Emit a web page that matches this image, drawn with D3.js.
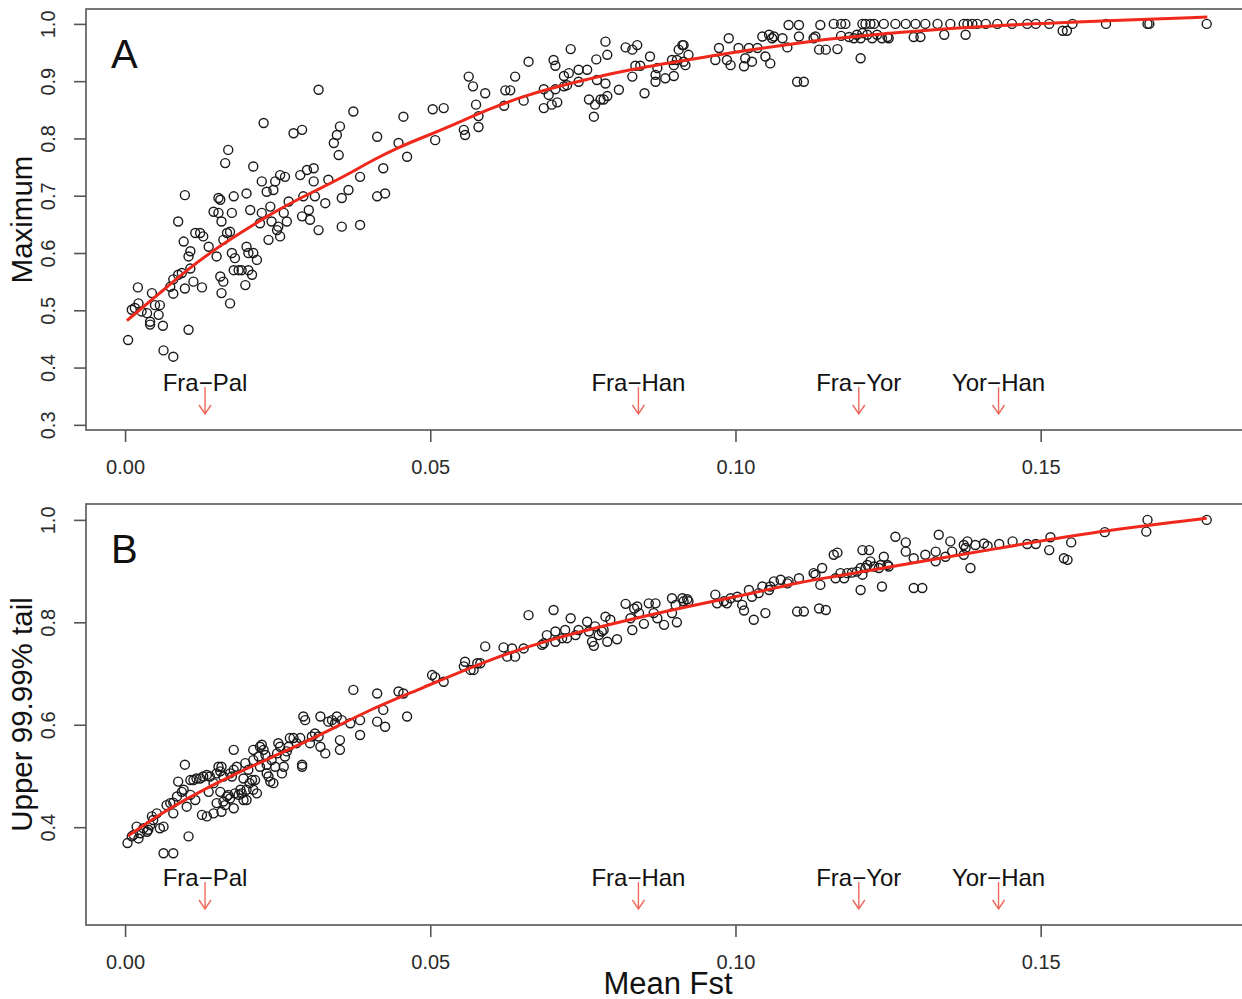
<!DOCTYPE html>
<html>
<head>
<meta charset="utf-8">
<script src="https://cdn.jsdelivr.net/npm/d3@7"></script>
<style>
  body { margin: 0; background: #fff; }
  text { font-family: "Liberation Sans", Arial, Helvetica, sans-serif; }
</style>
</head>
<body>
<div id="chart"></div>
<script>
// axis ticks
const xTicks = [0, 0.05, 0.10, 0.15];
const yTicksA = [0.3, 0.4, 0.5, 0.6, 0.7, 0.8, 0.9, 1.0];
const yTicksB = [0.4, 0.6, 0.8, 1.0];

// population pairs marked with arrows
const pairNames = ["Fra\u2212Pal", "Fra\u2212Han", "Fra\u2212Yor", "Yor\u2212Han"];
const pairFst = [0.0131, 0.0841, 0.1202, 0.1431];

// panel A: maximum vs mean Fst
const pointsA = [
  [0.0005,0.448],[0.0011,0.501],[0.0016,0.504],[0.0022,0.512],[0.0021,0.540],[0.0027,0.498],[0.0036,0.495],[0.0041,0.480],
  [0.0041,0.475],[0.0044,0.530],[0.0049,0.509],[0.0055,0.492],[0.0057,0.509],[0.0062,0.473],[0.0063,0.430],[0.0079,0.419],
  [0.0079,0.529],[0.0074,0.541],[0.0079,0.554],[0.0087,0.562],[0.0093,0.565],[0.0098,0.538],[0.0104,0.466],[0.0112,0.550],
  [0.0098,0.701],[0.0087,0.655],[0.0096,0.620],[0.0107,0.603],[0.0104,0.594],[0.0107,0.573],[0.0126,0.540],[0.0115,0.635],
  [0.0123,0.635],[0.0128,0.629],[0.0137,0.611],[0.0145,0.672],[0.0153,0.670],[0.0156,0.693],[0.0153,0.696],[0.0158,0.655],
  [0.0161,0.623],[0.0164,0.757],[0.0169,0.780],[0.0172,0.512],[0.0175,0.600],[0.0178,0.699],[0.0172,0.637],[0.0175,0.670],
  [0.0167,0.635],[0.0158,0.530],[0.0156,0.559],[0.0150,0.594],[0.0161,0.550],[0.0178,0.570],[0.0180,0.591],[0.0186,0.570],
  [0.0191,0.570],[0.0197,0.544],[0.0199,0.704],[0.0199,0.611],[0.0202,0.600],[0.0202,0.570],[0.0208,0.562],[0.0205,0.675],
  [0.0210,0.751],[0.0210,0.600],[0.0216,0.588],[0.0221,0.652],[0.0224,0.670],[0.0227,0.827],[0.0224,0.725],[0.0232,0.707],
  [0.0235,0.623],[0.0238,0.681],[0.0240,0.655],[0.0243,0.710],[0.0246,0.725],[0.0249,0.640],[0.0251,0.646],[0.0254,0.736],
  [0.0254,0.629],[0.0260,0.670],[0.0262,0.733],[0.0265,0.655],[0.0268,0.690],[0.0276,0.809],[0.0287,0.736],[0.0290,0.815],
  [0.0290,0.664],[0.0292,0.699],[0.0298,0.745],[0.0301,0.675],[0.0303,0.658],[0.0309,0.748],[0.0309,0.725],[0.0311,0.699],
  [0.0317,0.640],[0.0317,0.885],[0.0328,0.687],[0.0333,0.728],[0.0342,0.792],[0.0347,0.806],[0.0350,0.771],[0.0352,0.821],
  [0.0355,0.696],[0.0355,0.646],[0.0366,0.710],[0.0374,0.847],[0.0385,0.733],[0.0385,0.649],[0.0413,0.803],[0.0413,0.699],
  [0.0423,0.748],[0.0426,0.704],[0.0448,0.792],[0.0456,0.838],[0.0462,0.768],
  [0.0508,0.797],[0.0504,0.851],[0.0522,0.853],[0.0555,0.815],[0.0557,0.806],[0.0579,0.820],[0.0579,0.839],[0.0575,0.859],
  [0.0563,0.908],[0.0570,0.891],[0.0590,0.879],[0.0623,0.884],[0.0631,0.884],[0.0639,0.908],[0.0621,0.857],[0.0653,0.866],
  [0.0661,0.934],[0.0686,0.886],[0.0686,0.853],[0.0694,0.876],[0.0702,0.937],[0.0705,0.927],[0.0699,0.859],[0.0708,0.863],
  [0.0705,0.886],[0.0719,0.909],[0.0719,0.891],[0.0727,0.914],[0.0730,0.956],[0.0724,0.893],[0.0743,0.920],[0.0743,0.899],
  [0.0757,0.920],[0.0760,0.868],[0.0768,0.838],[0.0770,0.859],[0.0773,0.902],[0.0779,0.868],[0.0784,0.868],[0.0787,0.896],
  [0.0790,0.874],[0.0787,0.969],[0.0772,0.938],[0.0790,0.946],[0.0809,0.885],[0.0820,0.959],[0.0831,0.955],[0.0839,0.963],
  [0.0831,0.908],[0.0836,0.927],[0.0844,0.927],[0.0851,0.879],[0.0860,0.943],[0.0869,0.899],[0.0869,0.911],[0.0872,0.923],
  [0.0885,0.905],[0.0899,0.909],[0.0896,0.937],[0.0899,0.928],[0.0904,0.937],[0.0907,0.955],[0.0913,0.963],[0.0915,0.963],
  [0.0915,0.934],[0.0918,0.928],[0.0923,0.946],[0.0967,0.937],[0.0973,0.958],[0.0986,0.937],[0.0989,0.975],[0.0992,0.928],
  [0.1005,0.958],[0.1014,0.926],[0.1016,0.940],[0.1022,0.958],[0.1027,0.934],[0.1036,0.958],[0.1044,0.978],[0.1049,0.943],
  [0.1055,0.981],[0.1057,0.931],[0.1060,0.975],[0.1063,0.978],[0.1077,0.975],[0.1085,0.959],[0.1087,0.998],[0.1104,0.998],
  [0.1104,0.978],[0.1101,0.899],[0.1112,0.899],[0.1128,0.975],[0.1131,0.978],[0.1137,0.955],[0.1139,0.998],[0.1148,0.955],
  [0.1161,1.0],[0.1173,1.0],[0.1180,1.0],[0.1208,1.0],[0.1213,1.0],[0.1221,1.0],[0.1227,1.0],[0.1243,1.0],
  [0.1262,1.0],[0.1279,1.0],[0.1295,1.0],[0.1311,1.0],[0.1331,1.0],[0.1352,1.0],[0.1374,1.0],[0.1380,1.0],
  [0.1388,1.0],[0.1396,1.0],[0.1410,1.0],[0.1429,1.0],
  [0.1167,0.956],[0.1173,0.979],[0.1186,0.977],[0.1194,0.975],[0.1199,0.981],[0.1205,0.975],[0.1208,0.984],[0.1216,0.981],
  [0.1224,0.975],[0.1232,0.981],[0.1240,0.975],[0.1249,0.977],[0.1251,0.975],[0.1292,0.977],[0.1303,0.977],[0.1342,0.981],
  [0.1377,0.981],[0.1205,0.940],
  [0.1453,1.0],[0.1478,1.0],[0.1492,1.0],[0.1514,1.0],[0.1552,1.0],[0.1607,1.0],[0.1675,1.0],[0.1678,1.0],
  [0.1772,1.0],[0.1536,0.988],[0.1543,0.988]
];

// panel B: upper 99.99% tail vs mean Fst
const pointsB = [
  [0.0004,0.369],[0.0011,0.382],[0.0014,0.385],[0.0019,0.401],[0.0022,0.378],[0.0025,0.388],[0.0030,0.398],[0.0036,0.391],
  [0.0038,0.395],[0.0041,0.404],[0.0044,0.421],[0.0046,0.414],[0.0052,0.427],[0.0057,0.398],[0.0063,0.401],[0.0063,0.349],
  [0.0079,0.349],[0.0068,0.443],[0.0074,0.447],[0.0079,0.448],[0.0079,0.427],[0.0085,0.460],[0.0087,0.489],[0.0093,0.469],
  [0.0096,0.473],[0.0098,0.522],[0.0101,0.440],[0.0104,0.382],[0.0107,0.463],[0.0107,0.492],[0.0112,0.492],[0.0115,0.453],
  [0.0117,0.495],[0.0123,0.495],[0.0126,0.424],[0.0128,0.499],[0.0134,0.421],[0.0134,0.502],[0.0137,0.469],[0.0139,0.499],
  [0.0145,0.486],[0.0145,0.427],[0.0150,0.505],[0.0150,0.447],[0.0153,0.518],[0.0156,0.509],[0.0158,0.518],[0.0161,0.499],
  [0.0156,0.469],[0.0158,0.430],[0.0161,0.450],[0.0164,0.443],[0.0167,0.460],[0.0169,0.463],[0.0172,0.456],[0.0172,0.505],
  [0.0175,0.499],[0.0178,0.551],[0.0178,0.512],[0.0178,0.437],[0.0180,0.466],[0.0183,0.518],[0.0186,0.463],[0.0189,0.473],
  [0.0191,0.466],[0.0194,0.453],[0.0194,0.495],[0.0197,0.525],[0.0199,0.473],[0.0199,0.453],[0.0202,0.512],[0.0204,0.486],
  [0.0208,0.492],[0.0210,0.473],[0.0210,0.531],[0.0210,0.551],[0.0213,0.492],[0.0216,0.466],[0.0219,0.538],[0.0221,0.557],
  [0.0221,0.518],[0.0224,0.561],[0.0227,0.551],[0.0230,0.541],[0.0232,0.505],[0.0232,0.522],[0.0235,0.499],[0.0238,0.489],
  [0.0240,0.531],[0.0243,0.486],[0.0246,0.518],[0.0249,0.544],[0.0251,0.564],[0.0254,0.557],[0.0257,0.505],[0.0260,0.518],
  [0.0262,0.538],[0.0265,0.548],[0.0268,0.557],[0.0270,0.574],[0.0276,0.574],[0.0281,0.564],[0.0287,0.574],[0.0290,0.522],
  [0.0290,0.518],[0.0292,0.616],[0.0295,0.609],[0.0303,0.564],[0.0306,0.577],[0.0311,0.583],[0.0317,0.577],[0.0320,0.616],
  [0.0320,0.557],[0.0328,0.544],[0.0333,0.606],[0.0339,0.609],[0.0344,0.603],[0.0347,0.616],[0.0352,0.570],[0.0352,0.551],
  [0.0355,0.609],[0.0369,0.603],[0.0374,0.668],[0.0385,0.609],[0.0385,0.580],[0.0413,0.661],[0.0413,0.606],[0.0423,0.629],
  [0.0426,0.596],[0.0448,0.665],[0.0456,0.661],[0.0462,0.616],
  [0.0503,0.697],[0.0508,0.693],[0.0522,0.684],[0.0557,0.723],[0.0555,0.714],[0.0566,0.707],[0.0571,0.707],[0.0577,0.720],
  [0.0582,0.720],[0.0590,0.753],[0.0620,0.751],[0.0626,0.733],[0.0634,0.749],[0.0639,0.733],[0.0653,0.749],[0.0661,0.814],
  [0.0683,0.756],[0.0686,0.759],[0.0691,0.775],[0.0702,0.824],[0.0705,0.782],[0.0705,0.762],[0.0716,0.769],[0.0721,0.785],
  [0.0724,0.769],[0.0730,0.808],[0.0738,0.775],[0.0743,0.785],[0.0757,0.801],[0.0760,0.782],[0.0768,0.754],[0.0765,0.762],
  [0.0770,0.792],[0.0776,0.775],[0.0781,0.782],[0.0784,0.785],[0.0787,0.811],[0.0790,0.762],[0.0795,0.805],[0.0806,0.767],
  [0.0820,0.836],[0.0828,0.808],[0.0831,0.785],[0.0834,0.827],[0.0839,0.831],[0.0842,0.818],[0.0850,0.797],[0.0858,0.837],
  [0.0869,0.837],[0.0866,0.818],[0.0872,0.808],[0.0883,0.795],[0.0896,0.847],[0.0896,0.818],[0.0904,0.800],[0.0902,0.834],
  [0.0913,0.847],[0.0915,0.841],[0.0921,0.845],[0.0923,0.841],[0.0967,0.854],[0.0970,0.837],[0.0981,0.841],[0.0986,0.837],
  [0.0992,0.847],[0.1003,0.850],[0.1011,0.834],[0.1014,0.823],[0.1022,0.863],[0.1027,0.850],[0.1030,0.805],[0.1038,0.857],
  [0.1044,0.870],[0.1049,0.818],[0.1055,0.863],[0.1057,0.870],[0.1063,0.880],[0.1074,0.883],[0.1085,0.876],[0.1087,0.880],
  [0.1104,0.886],[0.1101,0.821],[0.1112,0.821],[0.1128,0.896],[0.1131,0.893],[0.1137,0.827],[0.1139,0.873],[0.1142,0.906],
  [0.1148,0.824],
  [0.1161,0.932],[0.1167,0.936],[0.1164,0.886],[0.1172,0.896],[0.1178,0.886],[0.1183,0.896],[0.1191,0.897],[0.1199,0.899],
  [0.1205,0.906],[0.1208,0.941],[0.1219,0.941],[0.1208,0.893],[0.1213,0.906],[0.1216,0.912],[0.1221,0.919],[0.1227,0.909],
  [0.1235,0.906],[0.1238,0.912],[0.1243,0.928],[0.1249,0.912],[0.1251,0.909],[0.1205,0.863],[0.1240,0.870],[0.1262,0.967],
  [0.1279,0.956],[0.1279,0.938],[0.1292,0.925],[0.1292,0.867],[0.1306,0.867],[0.1311,0.932],[0.1328,0.938],[0.1328,0.919],
  [0.1333,0.971],[0.1344,0.928],[0.1352,0.958],[0.1355,0.938],[0.1374,0.951],[0.1377,0.945],[0.1380,0.958],[0.1374,0.932],
  [0.1385,0.906],[0.1393,0.951],[0.1407,0.954],[0.1413,0.949],[0.1432,0.953],[0.1454,0.958],[0.1478,0.953],[0.1492,0.953],
  [0.1514,0.941],[0.1516,0.966],[0.1538,0.925],[0.1544,0.922],[0.1550,0.956],[0.1605,0.976],[0.1675,1.0],[0.1673,0.977],
  [0.1772,1.0]
];

// smooth fits (red lines)
const fitA = [
  [0.0003,0.482],[0.0057,0.530],[0.0101,0.570],[0.0145,0.605],[0.0189,0.635],[0.0232,0.664],[0.0276,0.690],[0.0320,0.713],
  [0.0363,0.736],[0.0407,0.763],[0.0451,0.786],[0.0484,0.800],[0.0538,0.824],[0.0593,0.850],[0.0648,0.872],[0.0702,0.889],
  [0.0757,0.903],[0.0811,0.917],[0.0899,0.933],[0.0975,0.947],[0.1085,0.964],[0.1156,0.974],[0.1270,0.986],[0.1434,0.998],
  [0.1600,1.005],[0.1773,1.012]
];
const fitB = [
  [0.0005,0.383],[0.0057,0.425],[0.0101,0.456],[0.0178,0.503],[0.0243,0.538],[0.0320,0.580],[0.0396,0.627],[0.0484,0.670],
  [0.0593,0.726],[0.0702,0.769],[0.0811,0.801],[0.0921,0.831],[0.1030,0.857],[0.1107,0.879],[0.1156,0.888],[0.1270,0.912],
  [0.1434,0.945],[0.1571,0.974],[0.1772,1.003]
];

const width = 1242, height = 999;
const svg = d3.select("#chart").append("svg")
  .attr("width", width)
  .attr("height", height);

// shared x scale (box runs off the right edge like the original)
const left = 86, right = 1247;
const x = d3.scaleLinear().domain([-0.0064, 0.1838]).range([left, right]);

drawPanel({ top: 9, bottom: 430, domain: [0.291, 1.026], ticks: yTicksA,
  points: pointsA, fit: fitA, letter: "A", ylabel: "Maximum" });
drawPanel({ top: 504, bottom: 925, domain: [0.209, 1.031], ticks: yTicksB,
  points: pointsB, fit: fitB, letter: "B", ylabel: "Upper 99.99% tail" });

// x axis title
svg.append("text")
  .attr("x", 668).attr("y", 994)
  .attr("text-anchor", "middle")
  .attr("font-size", "31px")
  .attr("fill", "#111")
  .text("Mean Fst");

function drawPanel(p) {
  const y = d3.scaleLinear().domain(p.domain).range([p.bottom, p.top]);
  const g = svg.append("g");

  // points
  g.append("g").selectAll("circle")
    .data(p.points)
    .join("circle")
    .attr("cx", d => x(d[0]))
    .attr("cy", d => y(d[1]))
    .attr("r", 4.5)
    .attr("fill", "none")
    .attr("stroke", "#1a1a1a")
    .attr("stroke-width", 1.4);

  // fitted curve
  const line = d3.line()
    .x(d => x(d[0]))
    .y(d => y(d[1]))
    .curve(d3.curveBasis);
  g.append("path")
    .datum(p.fit)
    .attr("d", line)
    .attr("fill", "none")
    .attr("stroke", "#f0281c")
    .attr("stroke-width", 3);

  // pair labels + arrows
  const ann = g.append("g").selectAll("g")
    .data(pairNames.map((n, i) => ({ name: n, fst: pairFst[i] })))
    .join("g")
    .attr("transform", d => `translate(${x(d.fst)},${p.bottom})`);
  ann.append("text")
    .attr("y", -39)
    .attr("text-anchor", "middle")
    .attr("font-size", "24px")
    .attr("fill", "#111")
    .text(d => d.name);
  ann.append("path")
    .attr("d", "M0,-43V-16M-6,-25L0,-16L6,-25")
    .attr("fill", "none")
    .attr("stroke", "#f06a5c")
    .attr("stroke-width", 1.4);

  // box
  g.append("rect")
    .attr("x", left).attr("y", p.top)
    .attr("width", right - left).attr("height", p.bottom - p.top)
    .attr("fill", "none")
    .attr("stroke", "#555")
    .attr("stroke-width", 1.6);

  // x axis
  const xa = g.append("g")
    .attr("transform", `translate(0,${p.bottom})`)
    .call(d3.axisBottom(x).tickValues(xTicks).tickFormat(d3.format(".2f"))
      .tickSize(12).tickPadding(18));
  xa.select(".domain").remove();

  // y axis, labels parallel to axis
  const ya = g.append("g")
    .attr("transform", `translate(${left},0)`)
    .call(d3.axisLeft(y).tickValues(p.ticks).tickFormat(d3.format(".1f")).tickSize(12));
  ya.select(".domain").remove();
  ya.selectAll("text")
    .attr("x", 0).attr("y", 0).attr("dy", 0)
    .attr("text-anchor", "middle")
    .attr("transform", "translate(-31,0) rotate(-90)");

  [xa, ya].forEach(a => {
    a.selectAll("line").attr("stroke", "#555").attr("stroke-width", 1.6);
    a.selectAll("text").attr("font-size", "20px").attr("fill", "#2a2a2a")
      .attr("font-family", "Liberation Sans, Arial, sans-serif");
  });

  // panel letter
  g.append("text")
    .attr("x", 111).attr("y", p.top + 59)
    .attr("font-size", "40px")
    .attr("fill", "#111")
    .text(p.letter);

  // y title
  g.append("text")
    .attr("transform", `translate(32,${(p.top + p.bottom) / 2}) rotate(-90)`)
    .attr("text-anchor", "middle")
    .attr("font-size", "29.5px")
    .attr("fill", "#111")
    .text(p.ylabel);
}
</script>
</body>
</html>
